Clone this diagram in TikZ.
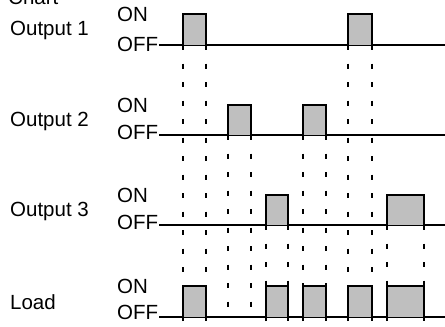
\documentclass[tikz,border=0pt]{standalone}
\usepackage{fontspec}
\setmainfont{Liberation Sans}
\usetikzlibrary{positioning}

\begin{document}
\begin{tikzpicture}[
      x=1pt, y=-1pt,
      txt/.style={font=\fontsize{20.5}{23}\selectfont, inner sep=0pt, anchor=west},
      base/.style={line width=1.3pt},
      shade/.style={fill=black!25},
      side/.style={line width=1.4pt},
      ontop/.style={line width=2.8pt},
      guide/.style={line width=1.1pt, dash pattern=on 5pt off 13.5pt}
    ]
      \useasboundingbox (0,0) rectangle (445,327);
      \def\yload{317}
      % title, cut by the top edge
      \node[txt, anchor=base west] (title) at (8,4) {Chart};
      % rows: number / label / ON level / OFF level / OFF text / pulses
      \foreach \k/\name/\yon/\yoff/\ytx/\pulses in {
          1/{Output 1}/14/45/44.5/{183/206,348/372},
          2/{Output 2}/105/135/132.5/{228/251,303/326},
          3/{Output 3}/195/225/222.5/{266/288,387/424},
          4/{Load}/286/317/312.5/{183/206,266/288,303/326,348/372,387/424}} {
        \node[txt] (lbl\k) at (10,\yon+16) {\name};
        \node[txt] (on\k) at (117,\yon) {ON};
        \node[txt] (off\k) at (117,\ytx) {OFF};
        \coordinate (start\k) at (159,\yoff);
        \coordinate (end\k) at (445,\yoff);
        \draw[base] (start\k) -- (end\k);
        \foreach \a/\b in \pulses {
          \fill[shade] (\a,\yon) rectangle (\b,\yoff);
          \draw[side] (\a,\yoff+4) -- (\a,\yon) (\b,\yon) -- (\b,\yoff+4);
          \draw[ontop] (\a-1,\yon) -- (\b+1,\yon);
          % guides down to the load line
          \ifnum\k<4
            \draw[guide] (\a,\yoff) -- (\a,\yload);
            \draw[guide] (\b,\yoff) -- (\b,\yload);
          \fi
        }
      }
    \end{tikzpicture}
\end{document}
